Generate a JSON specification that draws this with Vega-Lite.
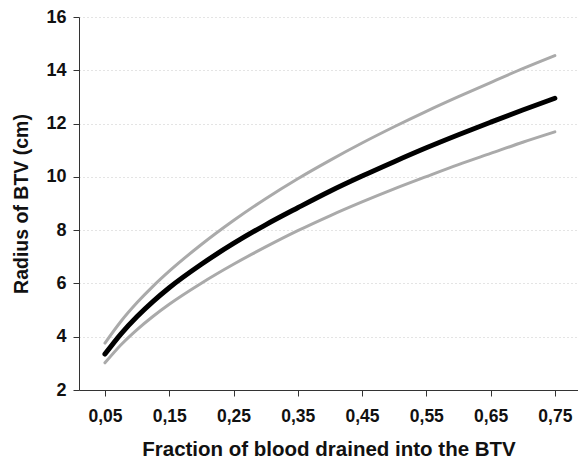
{
  "$schema": "https://vega.github.io/schema/vega-lite/v6.json",
  "width": 499,
  "height": 373,
  "autosize": {"type": "none"},
  "padding": {"left": 79, "top": 17, "right": 0, "bottom": 71},
  "background": "white",
  "view": {"stroke": null},
  "config": {"font": "Liberation Sans"},
  "datasets": {
    "curves": [
      {"f": 0.05, "series": "upper", "r": 3.76},
      {"f": 0.075, "series": "upper", "r": 4.58},
      {"f": 0.1, "series": "upper", "r": 5.28},
      {"f": 0.125, "series": "upper", "r": 5.90},
      {"f": 0.15, "series": "upper", "r": 6.46},
      {"f": 0.2, "series": "upper", "r": 7.46},
      {"f": 0.25, "series": "upper", "r": 8.36},
      {"f": 0.3, "series": "upper", "r": 9.18},
      {"f": 0.35, "series": "upper", "r": 9.93},
      {"f": 0.4, "series": "upper", "r": 10.62},
      {"f": 0.45, "series": "upper", "r": 11.27},
      {"f": 0.5, "series": "upper", "r": 11.88},
      {"f": 0.55, "series": "upper", "r": 12.46},
      {"f": 0.6, "series": "upper", "r": 13.01},
      {"f": 0.65, "series": "upper", "r": 13.54},
      {"f": 0.7, "series": "upper", "r": 14.06},
      {"f": 0.75, "series": "upper", "r": 14.55},
      {"f": 0.05, "series": "lower", "r": 3.02},
      {"f": 0.075, "series": "lower", "r": 3.70},
      {"f": 0.1, "series": "lower", "r": 4.27},
      {"f": 0.125, "series": "lower", "r": 4.77},
      {"f": 0.15, "series": "lower", "r": 5.22},
      {"f": 0.2, "series": "lower", "r": 6.01},
      {"f": 0.25, "series": "lower", "r": 6.72},
      {"f": 0.3, "series": "lower", "r": 7.37},
      {"f": 0.35, "series": "lower", "r": 7.98},
      {"f": 0.4, "series": "lower", "r": 8.54},
      {"f": 0.45, "series": "lower", "r": 9.06},
      {"f": 0.5, "series": "lower", "r": 9.55},
      {"f": 0.55, "series": "lower", "r": 10.01},
      {"f": 0.6, "series": "lower", "r": 10.46},
      {"f": 0.65, "series": "lower", "r": 10.88},
      {"f": 0.7, "series": "lower", "r": 11.30},
      {"f": 0.75, "series": "lower", "r": 11.69},
      {"f": 0.05, "series": "mid", "r": 3.35},
      {"f": 0.075, "series": "mid", "r": 4.11},
      {"f": 0.1, "series": "mid", "r": 4.76},
      {"f": 0.125, "series": "mid", "r": 5.33},
      {"f": 0.15, "series": "mid", "r": 5.84},
      {"f": 0.2, "series": "mid", "r": 6.72},
      {"f": 0.25, "series": "mid", "r": 7.50},
      {"f": 0.3, "series": "mid", "r": 8.20},
      {"f": 0.35, "series": "mid", "r": 8.84},
      {"f": 0.4, "series": "mid", "r": 9.46},
      {"f": 0.45, "series": "mid", "r": 10.03},
      {"f": 0.5, "series": "mid", "r": 10.57},
      {"f": 0.55, "series": "mid", "r": 11.09},
      {"f": 0.6, "series": "mid", "r": 11.58},
      {"f": 0.65, "series": "mid", "r": 12.05},
      {"f": 0.7, "series": "mid", "r": 12.51},
      {"f": 0.75, "series": "mid", "r": 12.95}
    ]
  },
  "layer": [
    {
      "mark": {"type": "rule", "stroke": "#333333", "strokeWidth": 1},
      "encoding": {
        "y": {"datum": 16, "type": "quantitative", "scale": {"domain": [2, 16]}}
      }
    },
    {
      "data": {"name": "curves"},
      "transform": [{"filter": "datum.series !== 'mid'"}],
      "mark": {"type": "line", "interpolate": "monotone", "strokeCap": "round", "stroke": "#aaaaaa", "strokeWidth": 3},
      "encoding": {
        "x": {
          "field": "f",
          "type": "quantitative",
          "scale": {"domain": [0.0096, 0.786], "nice": false, "zero": false},
          "axis": {
            "values": [0.05, 0.15, 0.25, 0.35, 0.45, 0.55, 0.65, 0.75],
            "labelExpr": "replace(format(datum.value, '.2f'), '.', ',')",
            "title": "Fraction of blood drained into the BTV",
            "titleFontSize": 20.5,
            "titleFontWeight": "bold",
            "titleColor": "#111111",
            "titlePadding": 15,
            "labelFontSize": 17.5,
            "labelFontWeight": "bold",
            "labelColor": "#111111",
            "labelPadding": 11,
            "tickSize": 6,
            "tickColor": "#333333",
            "domainColor": "#333333",
            "grid": false,
            "labelFlush": false
          }
        },
        "y": {
          "field": "r",
          "type": "quantitative",
          "scale": {"domain": [2, 16], "nice": false},
          "axis": {
            "values": [2, 4, 6, 8, 10, 12, 14, 16],
            "title": "Radius of BTV (cm)",
            "titleFontSize": 19.5,
            "titleFontWeight": "bold",
            "titleColor": "#111111",
            "titlePadding": 14,
            "labelFontSize": 18,
            "labelFontWeight": "bold",
            "labelColor": "#111111",
            "labelPadding": 7,
            "tickSize": 6,
            "tickColor": "#333333",
            "domainColor": "#333333",
            "grid": true,
            "gridColor": "#c8c8c8",
            "gridDash": [1, 3],
            "gridWidth": 1,
            "labelFlush": false
          }
        },
        "detail": {"field": "series", "type": "nominal"},
        "order": {"field": "f", "type": "quantitative"}
      }
    },
    {
      "data": {"name": "curves"},
      "transform": [{"filter": "datum.series === 'mid'"}],
      "mark": {"type": "line", "interpolate": "monotone", "strokeCap": "round", "stroke": "#000000", "strokeWidth": 5},
      "encoding": {
        "x": {"field": "f", "type": "quantitative"},
        "y": {"field": "r", "type": "quantitative"},
        "order": {"field": "f", "type": "quantitative"}
      }
    }
  ]
}
